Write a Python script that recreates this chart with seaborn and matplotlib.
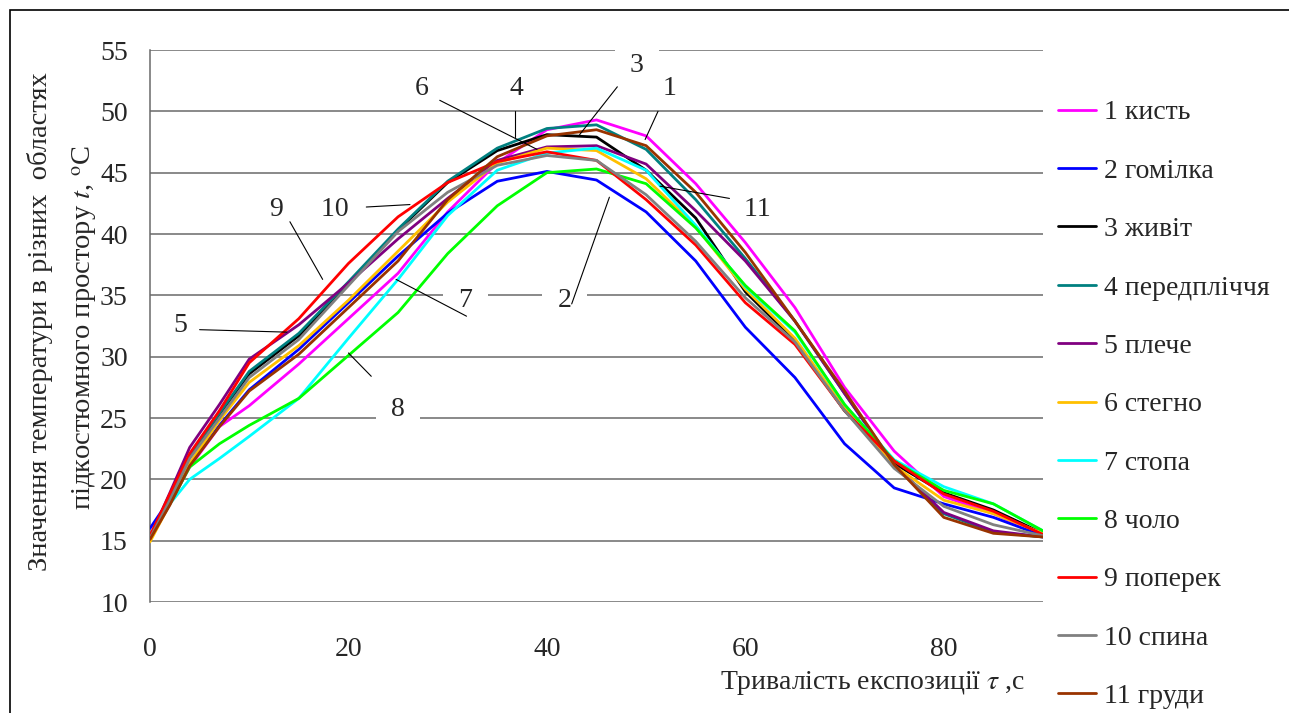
import numpy as np
import pandas as pd
import seaborn as sns
import matplotlib.pyplot as plt
from matplotlib.patches import Rectangle

sns.set_style('white')
plt.rcParams['font.family'] = ['Liberation Serif', 'DejaVu Serif']
plt.rcParams['mathtext.fontset'] = 'stix'

# час експозиції, с
t = [0, 2, 4, 7, 10, 15, 20, 25, 30, 35, 40, 45, 50, 55, 60, 65, 70, 75, 80, 85, 90]

kyst = [15.2, 18.0, 21.0, 24.3, 26.0, 29.4, 33.1, 36.8, 41.8, 45.8, 48.5, 49.3, 48.0, 44.1, 39.3, 34.0, 27.5, 22.3, 18.6, 17.2, 15.4]
homilka = [16.0, 18.4, 21.2, 24.4, 27.3, 30.6, 34.4, 38.2, 41.7, 44.3, 45.1, 44.4, 41.8, 37.8, 32.4, 28.3, 22.9, 19.3, 18.0, 16.9, 15.4]
zhyvit = [15.3, 18.6, 21.9, 25.3, 28.6, 31.7, 35.9, 40.3, 44.2, 46.8, 48.1, 47.9, 45.2, 41.3, 35.3, 31.3, 25.6, 21.3, 18.9, 17.5, 15.6]
peredplich = [15.3, 18.7, 22.0, 25.4, 28.8, 31.9, 36.1, 40.4, 44.3, 47.0, 48.6, 48.9, 46.9, 42.8, 38.0, 32.9, 27.0, 21.2, 17.2, 15.7, 15.3]
pleche = [15.3, 18.9, 22.6, 26.1, 29.8, 32.6, 36.0, 39.6, 42.9, 46.0, 47.1, 47.2, 45.7, 41.9, 37.8, 32.9, 27.0, 21.2, 17.3, 15.8, 15.3]
stehno = [14.9, 18.0, 21.3, 24.8, 27.9, 30.9, 34.6, 38.6, 42.6, 45.8, 47.0, 46.8, 44.5, 40.6, 35.5, 31.5, 25.8, 21.1, 18.3, 17.2, 15.6]
stopa = [15.3, 18.0, 20.0, 21.7, 23.5, 26.6, 31.5, 36.3, 41.5, 45.2, 46.6, 47.0, 45.2, 40.7, 35.7, 32.0, 26.1, 21.6, 19.4, 18.0, 15.8]
cholo = [15.3, 18.0, 21.0, 22.9, 24.4, 26.6, 30.1, 33.6, 38.4, 42.3, 45.0, 45.3, 44.1, 40.5, 35.8, 32.1, 26.1, 21.5, 19.1, 18.0, 15.8]
poperek = [15.4, 18.8, 22.1, 25.6, 29.5, 33.1, 37.6, 41.4, 44.2, 45.9, 46.7, 46.0, 42.8, 39.1, 34.4, 31.0, 25.6, 21.5, 18.8, 17.4, 15.5]
spyna = [15.2, 18.3, 21.7, 25.0, 28.3, 31.4, 35.8, 40.2, 43.4, 45.6, 46.4, 46.0, 43.2, 39.4, 34.8, 31.2, 25.6, 20.9, 17.8, 16.3, 15.4]
hrudy = [15.1, 17.9, 21.1, 24.3, 27.2, 30.2, 34.0, 37.8, 42.8, 46.3, 48.0, 48.5, 47.2, 43.4, 38.5, 32.9, 27.2, 21.2, 16.9, 15.6, 15.3]

names = ['1 кисть', '2 гомілка', '3 живіт', '4 передпліччя', '5 плече', '6 стегно',
         '7 стопа', '8 чоло', '9 поперек', '10 спина', '11 груди']
series = [kyst, homilka, zhyvit, peredplich, pleche, stehno, stopa, cholo, poperek, spyna, hrudy]
colors = ['#FF00FF', '#0000FF', '#000000', '#008080', '#800080', '#FFC000',
          '#00FFFF', '#00FF00', '#FF0000', '#808080', '#993300']

# підписи кривих: текст (x, y) і виносна лінія
labels = ['1', '3', '4', '6', '11', '2', '7', '10', '9', '5', '8']
label_xy = [(52.4, 51.9), (49.1, 53.7), (37.0, 51.9), (27.4, 51.9), (61.2, 42.0), (41.8, 34.6),
            (31.8, 34.6), (18.6, 42.0), (12.8, 42.0), (3.1, 32.5), (25.0, 25.7)]
leaders = [((51.2, 50.0), (49.9, 47.7)), ((47.1, 52.0), (43.3, 48.1)), ((36.8, 50.0), (36.8, 47.9)),
           ((29.2, 50.9), (39.0, 46.9)), ((58.4, 42.9), (51.4, 43.9)), ((42.5, 34.3), (46.3, 43.0)),
           ((31.9, 33.3), (24.8, 36.3)), ((21.8, 42.2), (26.2, 42.4)), ((14.1, 41.0), (17.4, 36.3)),
           ((5.0, 32.2), (13.8, 32.0)), ((22.3, 28.4), (20.0, 30.3))]

df = pd.concat([pd.DataFrame({'t': t, 'temp': s, 'zone': n}) for s, n in zip(series, names)])

fs = 20
fig = plt.figure(figsize=(12.89, 7.13), dpi=100)
ax = fig.add_axes([150 / 1289, 1 - 602 / 713, 893 / 1289, 552 / 713])

sns.lineplot(data=df, x='t', y='temp', hue='zone', hue_order=names, palette=colors,
             linewidth=2.0, ax=ax, legend=True, zorder=3)

ax.set_xlim(0, 90)
ax.set_ylim(10, 55)
ax.set_xticks([0, 20, 40, 60, 80])
ax.set_yticks(np.arange(10, 56, 5))
for yv in np.arange(10, 56, 5):
    ax.axhline(yv, color='#6a6a6a', lw=1.1, zorder=1)
for s in ['top', 'right', 'bottom']:
    ax.spines[s].set_visible(False)
ax.spines['left'].set_color('#6a6a6a')
ax.spines['left'].set_linewidth(1.1)
ax.tick_params(axis='both', direction='out', length=6, width=1.1, color='#6a6a6a', labelsize=fs)
ax.tick_params(axis='x', pad=19)
ax.tick_params(axis='y', pad=10)
ax.set_xlabel('')
ax.set_ylabel('')

for lab, (tx, ty), ((x1, y1), (x2, y2)) in zip(labels, label_xy, leaders):
    ax.plot([x1, x2], [y1, y2], color='black', lw=0.8, zorder=4)
    ax.text(tx, ty, ' ' + lab + ' ', fontsize=fs, ha='center', va='center', zorder=2,
            bbox=dict(boxstyle='square,pad=0.3', fc='white', ec='none'))

leg = ax.legend(loc='upper left', bbox_to_anchor=(1058 / 1289, 1 - 100 / 713),
                bbox_transform=fig.transFigure, frameon=False, fontsize=fs,
                handlelength=1.35, handletextpad=0.3, labelspacing=1.185, borderpad=0, borderaxespad=0)
for h in leg.get_lines():
    h.set_linewidth(2.0)

fig.text(40 / 1289, 1 - 322 / 713, 'Значення температури в різних  областях', rotation=90,
         fontsize=fs + 0.5, ha='center', va='center')
fig.text(85 / 1289, 1 - 328 / 713, r'підкостюмного простору $t$, $^{\rm o}$C', rotation=90,
         fontsize=fs + 0.5, ha='center', va='center')
fig.text(873 / 1289, 1 - 683 / 713, r'Тривалість експозиції $\tau$ ,с', fontsize=fs,
         ha='center', va='center')

fig.patches.append(Rectangle((10 / 1289, -0.2), 2, 1.2 - 10 / 713, transform=fig.transFigure,
                             fill=False, ec='black', lw=1.2))

fig.savefig('out.png', dpi=100)
